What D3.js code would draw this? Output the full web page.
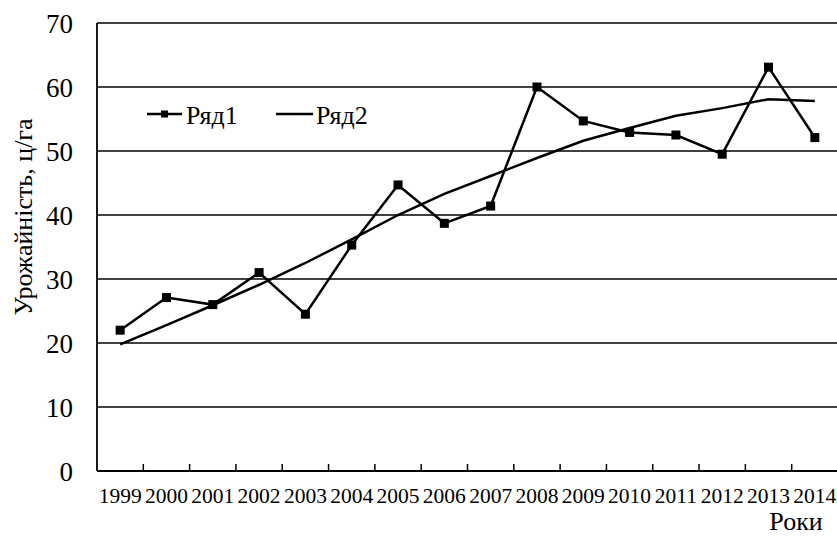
<!DOCTYPE html>
<html>
<head>
<meta charset="utf-8">
<script src="https://cdn.jsdelivr.net/npm/d3@7/dist/d3.min.js"></script>
<style>
  html, body { margin: 0; padding: 0; background: #fff; }
  svg { display: block; }
  svg text { font-family: 'Liberation Serif', 'DejaVu Serif', serif; }
</style>
</head>
<body>
<svg id="chart" width="837" height="536" font-family="Liberation Serif, DejaVu Serif, serif"></svg>
<script>
const years = ["1999","2000","2001","2002","2003","2004","2005","2006","2007","2008","2009","2010","2011","2012","2013","2014"];
const series1 = [22.0, 27.1, 26.0, 31.0, 24.5, 35.3, 44.7, 38.7, 41.4, 60.0, 54.7, 52.9, 52.5, 49.5, 63.1, 52.1];
const series2 = [19.8, 22.8, 25.9, 29.1, 32.5, 36.2, 40.0, 43.3, 46.1, 48.9, 51.6, 53.6, 55.5, 56.7, 58.1, 57.8];
const yTicks = [0, 10, 20, 30, 40, 50, 60, 70];
const seriesNames = ["Ряд1", "Ряд2"];
const yTitle = "Урожайність, ц/га";
const xTitle = "Роки";

const svg = d3.select("#chart");
const mLeft = 97, mRight = 838, mTop = 23, mBottom = 471;

const x = d3.scaleBand().domain(years).range([mLeft, mRight]).padding(0);
const y = d3.scaleLinear().domain([0, 70]).range([mBottom, mTop]);

// gridlines
svg.append("g").selectAll("line").data(yTicks.filter(d => d > 0)).join("line")
  .attr("x1", mLeft).attr("x2", 837)
  .attr("y1", d => y(d)).attr("y2", d => y(d))
  .attr("stroke", "#000").attr("stroke-width", 1.6);

// y axis line
svg.append("line").attr("x1", mLeft).attr("x2", mLeft).attr("y1", mTop).attr("y2", mBottom)
  .attr("stroke", "#000").attr("stroke-width", 1.8);
// x axis line
svg.append("line").attr("x1", mLeft).attr("x2", 837).attr("y1", mBottom).attr("y2", mBottom)
  .attr("stroke", "#000").attr("stroke-width", 1.8);

// x ticks (between categories, pointing up)
svg.append("g").selectAll("line").data(years.slice(1)).join("line")
  .attr("x1", d => x(d)).attr("x2", d => x(d))
  .attr("y1", mBottom).attr("y2", mBottom - 7)
  .attr("stroke", "#000").attr("stroke-width", 1.5);

// y tick labels
svg.append("g").selectAll("text").data(yTicks).join("text")
  .attr("x", 73).attr("y", d => y(d) + 9.5)
  .attr("text-anchor", "end")
  .attr("font-size", 27)
  .text(d => d);

// x tick labels
svg.append("g").selectAll("text").data(years).join("text")
  .attr("x", d => x(d) + x.bandwidth() / 2).attr("y", 503)
  .attr("text-anchor", "middle")
  .attr("font-size", 21.5)
  .text(d => d);

// axis titles
svg.append("text")
  .attr("transform", "translate(32," + 217 + ") rotate(-90)")
  .attr("text-anchor", "middle")
  .attr("font-size", 26)
  .text(yTitle);
svg.append("text")
  .attr("x", 796).attr("y", 530)
  .attr("text-anchor", "middle")
  .attr("font-size", 26)
  .text(xTitle);

const cx = d => x(d) + x.bandwidth() / 2;
const line = d3.line().x((d, i) => cx(years[i])).y(d => y(d));

// series 2 (trend)
svg.append("path").datum(series2)
  .attr("d", line).attr("fill", "none")
  .attr("stroke", "#000").attr("stroke-width", 2.5);

// series 1
svg.append("path").datum(series1)
  .attr("d", line).attr("fill", "none")
  .attr("stroke", "#000").attr("stroke-width", 2.5);
svg.append("g").selectAll("rect").data(series1).join("rect")
  .attr("x", (d, i) => cx(years[i]) - 4.5)
  .attr("y", d => y(d) - 4.5)
  .attr("width", 9).attr("height", 9)
  .attr("fill", "#000");

// legend
const leg = svg.append("g");
leg.append("line").attr("x1", 147).attr("x2", 182).attr("y1", 114).attr("y2", 114)
  .attr("stroke", "#000").attr("stroke-width", 2.5);
leg.append("rect").attr("x", 164.5 - 3.5).attr("y", 114 - 3.5).attr("width", 7).attr("height", 7).attr("fill", "#000");
leg.append("text").attr("x", 186).attr("y", 124).attr("font-size", 26).text(seriesNames[0]);
leg.append("line").attr("x1", 276).attr("x2", 313).attr("y1", 114).attr("y2", 114)
  .attr("stroke", "#000").attr("stroke-width", 2.5);
leg.append("text").attr("x", 316).attr("y", 124).attr("font-size", 26).text(seriesNames[1]);
</script>
</body>
</html>
